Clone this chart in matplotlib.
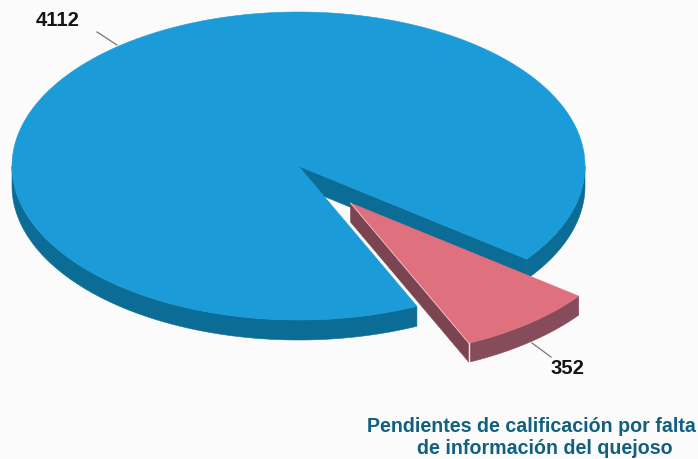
import matplotlib
matplotlib.use('Agg')
import matplotlib.pyplot as plt
import numpy as np

plt.rcParams['font.family'] = ['Liberation Sans', 'DejaVu Sans']

# datos
values = [4112, 352]
labels = [str(v) for v in values]
title_lines = ['Pendientes de calificación por falta', 'de información del quejoso']

BLUE_TOP = '#1b9bd8'
BLUE_SIDE = '#0b6d95'
RED_TOP = '#df717f'
RED_SIDE = '#874c5a'
RED_LEFT = '#7a4450'
TITLE_COLOR = '#11607f'

cx, cy = 298.5, 166
rx, ry = 286.5, 154
depth = 20
start = 37.2  # angulo donde empieza el sector rojo


def rim(t1, t2, ox=0, oy=0):
    t = np.radians(np.linspace(t1, t2, 200))
    return cx + ox + rx * np.cos(t), cy + oy + ry * np.sin(t)


def side(ax, t1, t2, color, ox=0, oy=0, d=depth):
    x, y = rim(t1, t2, ox, oy)
    ax.fill(np.r_[x, x[::-1]], np.r_[y, y[::-1] + d], color=color, lw=0.4)


def wall(ax, t, color, ox=0, oy=0, d=depth):
    x, y = rim(t, t, ox, oy)
    ax.fill([cx + ox, x[0], x[0], cx + ox],
            [cy + oy, y[0], y[0] + d, cy + oy + d], color=color, lw=0.4)


def sector(ax, t1, t2, color, ox=0, oy=0):
    x, y = rim(t1, t2, ox, oy)
    ax.fill(np.r_[cx + ox, x], np.r_[cy + oy, y], color=color, lw=0.4)


fig = plt.figure(figsize=(6.98, 4.59), dpi=100, facecolor='#fbfbfc')
ax = fig.add_axes([0, 0, 1, 1])
ax.set_xlim(0, 698)
ax.set_ylim(459, 0)
ax.axis('off')

sweep = 360 * values[1] / sum(values)
end = start + sweep

# sector azul
wall(ax, start, BLUE_SIDE)
side(ax, 0, start, BLUE_SIDE)
side(ax, end, 180, BLUE_SIDE)
sector(ax, end, 360 + start, BLUE_TOP)

# sector rojo separado
ox, oy = 52, 37
wall(ax, end, RED_LEFT, ox, oy, 19)
side(ax, start, end, RED_SIDE, ox, oy, 19)
sector(ax, start, end, RED_TOP, ox, oy)
ex, ey = rim(end, end, ox, oy)
ax.plot([ex[0], ex[0]], [ey[0], ey[0] + 19], color='#f4eaec', lw=1)
ax.plot([cx + ox, ex[0]], [cy + oy, ey[0]], color='#f0c4cb', lw=0.6)

# etiquetas
ax.plot([97, 117], [32, 45], color='#777777', lw=0.9)
ax.plot([532, 551], [343, 357], color='#777777', lw=0.9)
ax.text(57.5, 20, labels[0], fontsize=14.6, fontweight='bold', color='#151515', ha='center', va='center')
ax.text(567, 368, labels[1], fontsize=14.6, fontweight='bold', color='#151515', ha='center', va='center')

ax.text(531, 426, title_lines[0], fontsize=14.1, fontweight='bold', color=TITLE_COLOR, ha='center', va='center')
ax.text(545, 449, title_lines[1], fontsize=14.1, fontweight='bold', color=TITLE_COLOR, ha='center', va='center')

fig.savefig('out.png', dpi=100, facecolor=fig.get_facecolor())
